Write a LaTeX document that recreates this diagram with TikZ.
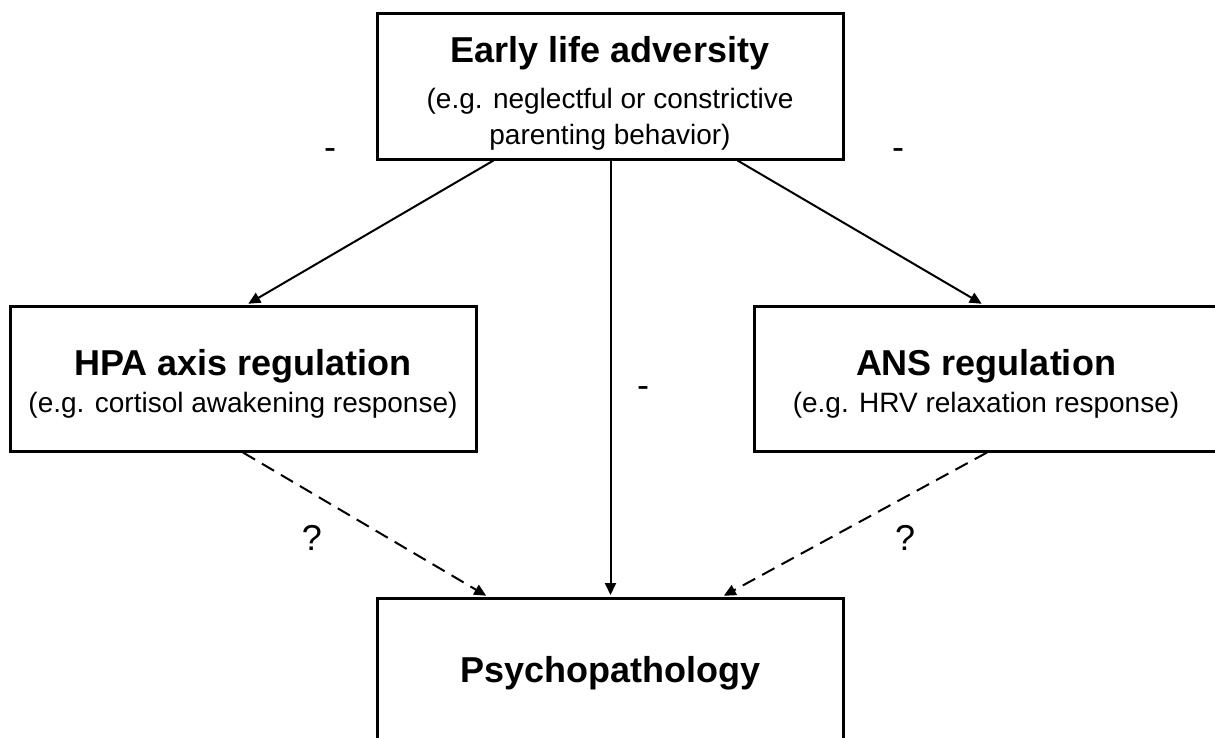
\documentclass[tikz,border=0pt]{standalone}
\usepackage{fontspec}
\setmainfont{Liberation Sans}
\usetikzlibrary{arrows.meta}

\tikzset{
  box/.style={draw, line width=1.5pt, minimum width=233pt, minimum height=72.5pt, inner sep=0pt},
  title/.style={anchor=base, inner sep=0pt, font=\fontsize{18}{22}\selectfont\bfseries},
  sub/.style={anchor=base, inner sep=0pt, font=\fontsize{14}{17}\selectfont},
  sign/.style={inner sep=0pt, font=\fontsize{18}{22}\selectfont},
  link/.style={line width=1pt, shorten >=0.75pt, -{Triangle[length=6pt,width=5.5pt]}},
  maybe/.style={link, dash pattern=on 7pt off 4pt},
}

\begin{document}
\begin{tikzpicture}[x=0.5pt,y=-0.5pt]
  % canvas
  \fill[white] (0,0) rectangle (1215,738);
  \path[use as bounding box] (0,0) rectangle (1215,738);
  \clip (0,0) rectangle (1215,738);

  % boxes
  \node[box] (ela) at (610.5,86.5) {};
  \node[box] (hpa) at (243,378.5) {};
  \node[box] (ans) at (987,378.5) {};
  \node[box] (psy) at (610.5,670.5) {};

  % box texts
  \node[title] (ela-t) at (610,63) {Early life adversity};
  \node[sub] (ela-s1) at (610,109) {(e.g. neglectful or constrictive};
  \node[sub] (ela-s2) at (610,144) {parenting behavior)};

  \node[title] (hpa-t) at (243,375) {HPA axis regulation};
  \node[sub] (hpa-s) at (243,412) {(e.g. cortisol awakening response)};

  \node[title] (ans-t) at (986,375) {ANS regulation};
  \node[sub] (ans-s) at (986,412) {(e.g. HRV relaxation response)};

  \node[title] (psy-t) at (610.5,682) {Psychopathology};

  % connectors
  \draw[link] ([xshift=-58.5pt]ela.south) -- ([xshift=2pt]hpa.north);
  \draw[link] ([xshift=63.5pt]ela.south) -- ([xshift=-2pt]ans.north);
  \draw[link] (ela.south) -- (psy.north);
  \draw[maybe] (hpa.south) -- ([xshift=-61.5pt]psy.north);
  \draw[maybe] (ans.south) -- ([xshift=56pt]psy.north);

  % signs
  \node[sign] (neg-l) at (330,154) {-};
  \node[sign] (neg-r) at (898,154) {-};
  \node[sign] (neg-c) at (643,392) {-};
  \node[sign] (q-l) at (312,538) {?};
  \node[sign] (q-r) at (905,538) {?};
\end{tikzpicture}
\end{document}
